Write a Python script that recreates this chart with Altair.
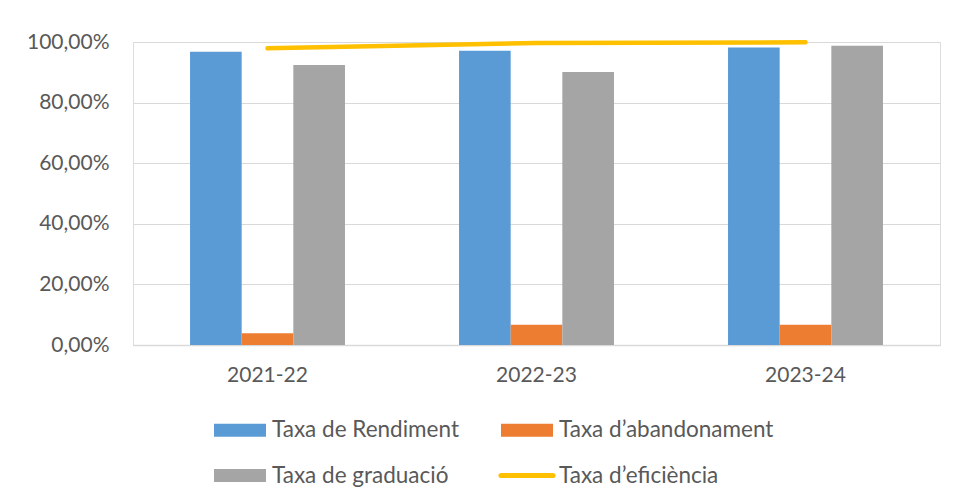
import altair as alt
import pandas as pd

years = ["2021-22", "2022-23", "2023-24"]
rendiment = [0.968, 0.971, 0.982]
abandonament = [0.039, 0.067, 0.067]
graduacio = [0.924, 0.901, 0.988]
eficiencia = [0.979, 0.997, 0.999]

bar_series = ["Taxa de Rendiment", "Taxa d’abandonament", "Taxa de graduació"]
line_series = "Taxa d’eficiència"
all_series = bar_series + [line_series]
colors = ["#5B9BD5", "#ED7D31", "#A5A5A5", "#FFC000"]
y_ticks = [0, 0.2, 0.4, 0.6, 0.8, 1.0]

rows = []
for name, vals in zip(bar_series, [rendiment, abandonament, graduacio]):
    for yr, v in zip(years, vals):
        rows.append({"year": yr, "serie": name, "value": v})
bars_df = pd.DataFrame(rows)
line_df = pd.DataFrame({"year": years, "serie": [line_series] * len(years), "value": eficiencia})

FONT = "Lato"
TXT = "#595959"
GRID = "#D9D9D9"
AFS = 21
LFS = 22.5

rect_path = "M-1,-0.25H1V0.25H-1Z"
line_path = "M-1,-0.1H1A0.1,0.1 0 0 1 1,0.1H-1A0.1,0.1 0 0 1 -1,-0.1Z"

x_enc = alt.X(
    "year:N", sort=years, title=None,
    scale=alt.Scale(domain=years, paddingInner=0.424, paddingOuter=0.212),
    axis=alt.Axis(labelAngle=0, ticks=False, domainColor=GRID, domainWidth=1.5,
                  labelPadding=19, labelFontSize=AFS, labelColor=TXT, labelFont=FONT,
                  grid=False),
)
y_enc = alt.Y(
    "value:Q", title=None,
    scale=alt.Scale(domain=[0, 1], nice=False),
    axis=alt.Axis(values=y_ticks, ticks=False, domain=False, gridColor=GRID, gridWidth=1.2,
                  labelExpr="replace(format(datum.value, '.2%'), '.', ',')",
                  labelPadding=24, labelFontSize=AFS, labelColor=TXT, labelFont=FONT),
)
color_scale = alt.Scale(domain=all_series, range=colors)

bars = alt.Chart(bars_df).mark_bar().encode(
    x=x_enc,
    y=y_enc,
    xOffset=alt.XOffset("serie:N", sort=bar_series,
                        scale=alt.Scale(domain=bar_series, paddingInner=0, paddingOuter=0)),
    color=alt.Color("serie:N", scale=color_scale, legend=None),
)

line = alt.Chart(line_df).mark_line(strokeWidth=4.5, strokeCap="round").encode(
    x=x_enc,
    y=y_enc,
    color=alt.Color("serie:N", scale=color_scale, legend=None),
)

leg = alt.Legend(
    title=None, orient="none", legendX=81, legendY=362, columns=2,
    direction="horizontal",
    columnPadding=39, rowPadding=7.5, symbolSize=2704, symbolStrokeWidth=0,
    labelFont=FONT, labelFontSize=LFS, labelColor=TXT, labelOffset=6, symbolOffset=0,
    labelLimit=500, padding=0, symbolOpacity=1,
)

legend_layer = alt.Chart(line_df).transform_filter("false").mark_point(filled=True, opacity=1).encode(
    x=x_enc,
    y=y_enc,
    color=alt.Color("serie:N", scale=color_scale, legend=leg),
    shape=alt.Shape("serie:N", scale=alt.Scale(domain=all_series,
                                              range=[rect_path, rect_path, rect_path, line_path]),
                    legend=leg),
)

chart = alt.layer(bars, line, legend_layer).resolve_legend(
    color="independent", shape="independent"
).properties(
    width=807, height=303,
    autosize=alt.AutoSizeParams(type="none"),
    padding={"left": 125, "top": 34, "right": 5, "bottom": 150},
).configure_view(stroke=None).configure(font=FONT)

chart.save("out.html", embed_options={"renderer": "svg", "actions": False})
